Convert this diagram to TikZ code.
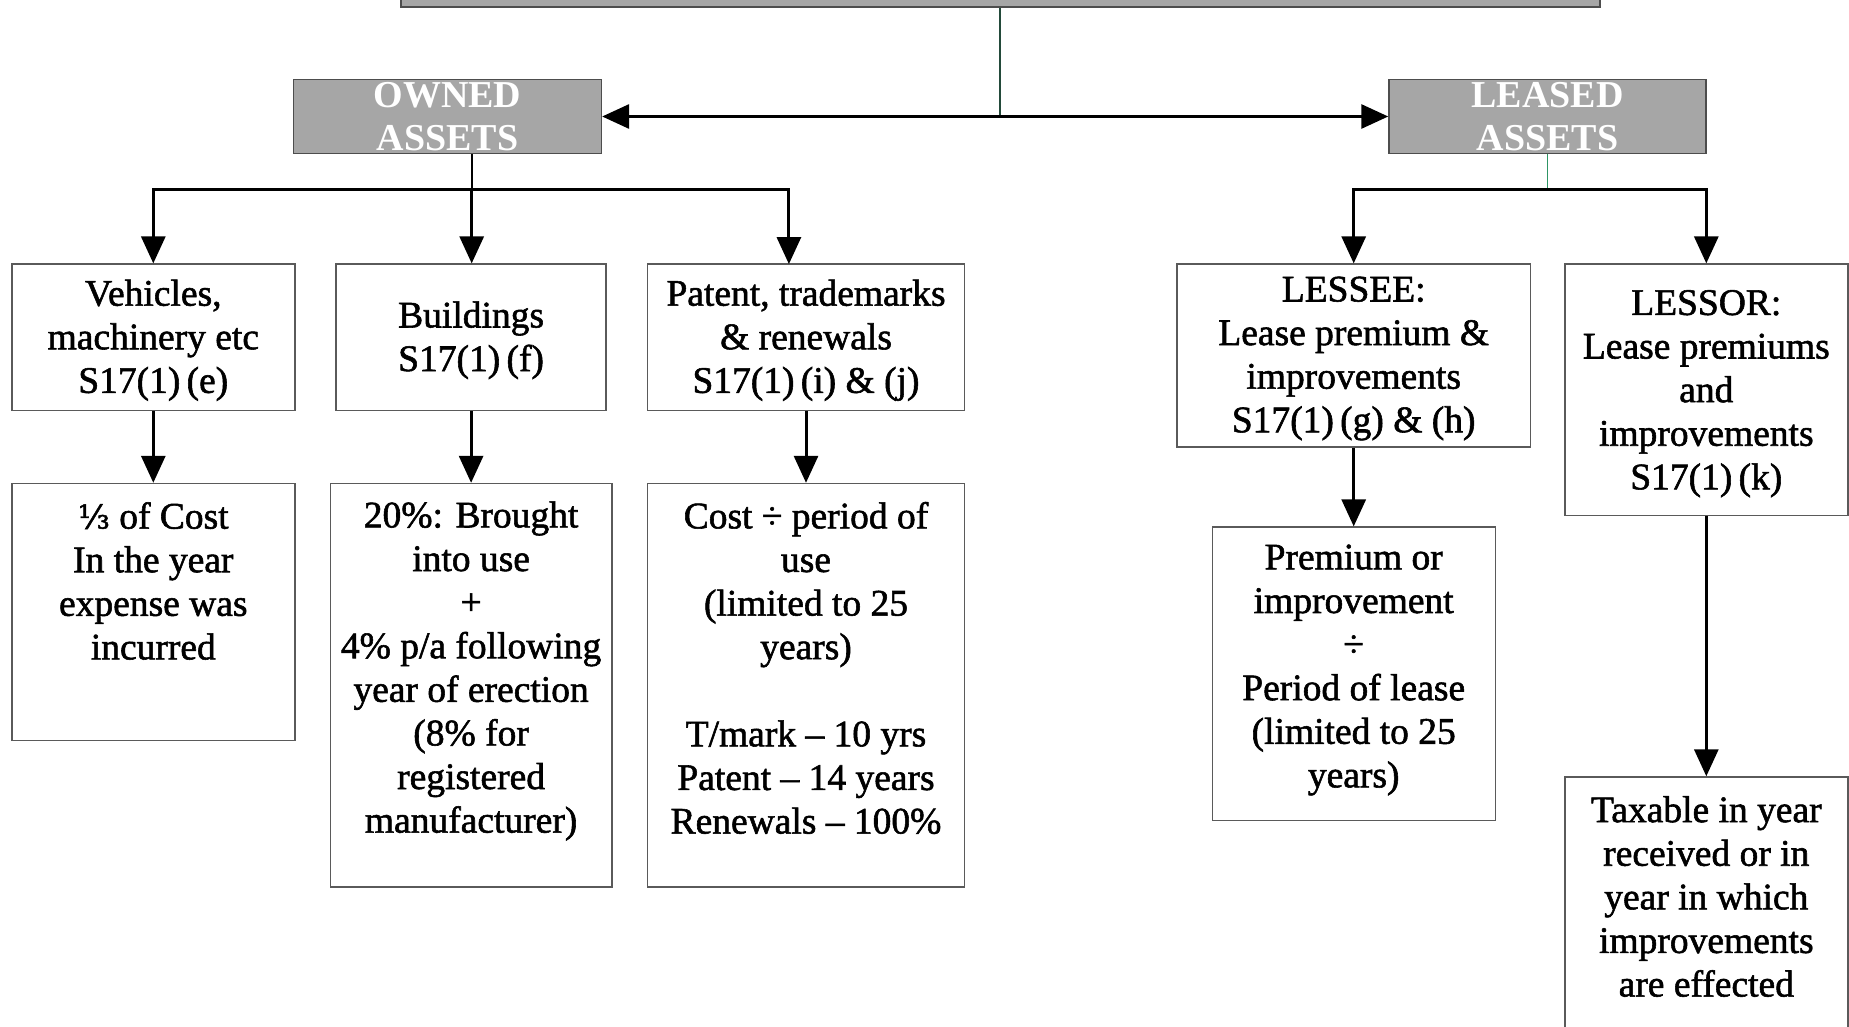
\documentclass[tikz,border=0pt]{standalone}
\usepackage{fontspec}
\setmainfont{Liberation Serif}
\newfontfamily\boxfont{Liberation Serif}[FakeBold=1.5]
\newfontfamily\dvserif{DejaVu Serif}[FakeBold=1.5]
\usetikzlibrary{arrows.meta}
\definecolor{headgray}{HTML}{A6A6A6}
\definecolor{edgegray}{HTML}{4D4D4D}
\definecolor{boxgray}{HTML}{5A5A5A}
\definecolor{tealline}{HTML}{234A3A}
\definecolor{greenline}{HTML}{2E9565}
\begin{document}
\begin{tikzpicture}[x=1pt,y=-1pt,
  box/.style={draw=boxgray, line width=1.4pt, fill=white, inner sep=0pt},
  txt/.style={font=\boxfont\fontsize{37.5}{43.6}\selectfont, align=center, inner sep=0pt},
  gbox/.style={draw=edgegray, line width=1.5pt, fill=headgray, inner sep=0pt},
  htxt/.style={font=\bfseries\fontsize{38}{43}\selectfont, text=white, align=center},
  tipT/.tip={Triangle[width=24pt,length=27pt]},
  conn/.style={line width=3pt, -tipT},
  thinline/.style={line width=1.8pt},
]
\useasboundingbox (0,0) rectangle (1849,1027);
\clip (0,0) rectangle (1849,1027);

% header boxes
\node[gbox, minimum width=1199pt, minimum height=37pt] (top) at (1000.5,-11.5) {};
\node[gbox, htxt, minimum width=307.8pt, minimum height=74pt] (owned) at (447.5,116.5) {OWNED\\ASSETS};
\node[gbox, htxt, minimum width=317pt, minimum height=74pt] (leased) at (1547.5,116.5) {LEASED\\ASSETS};

% owned side boxes
\node[box, minimum width=283pt, minimum height=146.3pt] (veh) at (153.3,337.25) {};
\node[txt] at ([yshift=-3pt]veh.center) {Vehicles,\\machinery etc\\S17(1)\,(e)};
\node[box, minimum width=270pt, minimum height=146.3pt] (bld) at (471.1,337.25) {};
\node[txt] at ([yshift=-3pt]bld.center) {Buildings\\S17(1)\,(f)};
\node[box, minimum width=317.2pt, minimum height=146.3pt] (pat) at (806,337.25) {};
\node[txt] at ([yshift=-3pt]pat.center) {Patent, trademarks\\\& renewals\\S17(1)\,(i) \& (j)};

\node[box, minimum width=283pt, minimum height=257pt] (third) at (153.3,612) {};
\node[txt] at (153.3,581) {{\dvserif\fontsize{33}{40}\selectfont ⅓} of Cost\\In the year\\expense was\\incurred};
\node[box, minimum width=281.8pt, minimum height=403.3pt] (twenty) at (471.1,685.15) {};
\node[txt] at (471.1,671) {20\%: Brought\\into use\\+\\4\% p/a following\\year of erection\\(8\% for\\registered\\manufacturer)};
\node[box, minimum width=317.2pt, minimum height=403.3pt] (cost) at (806,685.15) {};
\node[txt] at (806,668) {Cost ÷ period of\\use\\(limited to 25\\years)\\[43.6pt]T/mark – 10 yrs\\Patent – 14 years\\Renewals – 100\%};

% leased side boxes
\node[box, minimum width=353.8pt, minimum height=182.8pt] (lessee) at (1353.7,355.5) {};
\node[txt] at ([yshift=-3pt]lessee.center) {LESSEE:\\Lease premium \&\\improvements\\S17(1)\,(g) \& (h)};
\node[box, minimum width=283pt, minimum height=293.6pt] (prem) at (1353.7,673.9) {};
\node[txt] at (1353.7,670) {Premium or\\improvement\\÷\\Period of lease\\(limited to 25\\years)};
\node[box, minimum width=283pt, minimum height=251.2pt] (lessor) at (1706.3,389.7) {};
\node[txt] at ([yshift=-4pt]lessor.center) {LESSOR:\\Lease premiums\\and\\improvements\\S17(1)\,(k)};
\node[box, minimum width=283pt, minimum height=268pt] (tax) at (1706.3,911) {};
\node[txt] at (1706.3,896.5) {Taxable in year\\received or in\\year in which\\improvements\\are effected};

% connectors
\coordinate (mid) at (1000,116.5);
\draw[line width=2pt, tealline] (top.south -| mid) -- (mid);
\draw[line width=3pt, tipT-tipT] (owned.east) -- (leased.west);

\coordinate (lb) at (471.7,190);
\coordinate (patin) at (788.9,264.1);
\draw[thinline] (owned.south -| lb) -- (lb);
\draw[conn] (lb) -| (veh.north);
\draw[conn] (lb) -| (patin);
\draw[conn] (lb) -- (lb |- bld.north);

\coordinate (rb) at (1547.5,190);
\draw[thinline, greenline] (leased.south) -- (rb);
\draw[conn] (rb) -| (lessee.north);
\draw[conn] (rb) -| (lessor.north);

\draw[conn] (veh.south) -- (third.north);
\draw[conn] (bld.south) -- (twenty.north);
\draw[conn] (pat.south) -- (cost.north);
\draw[conn] (lessee.south) -- (prem.north);
\draw[conn] (lessor.south) -- (tax.north);
\end{tikzpicture}
\end{document}
